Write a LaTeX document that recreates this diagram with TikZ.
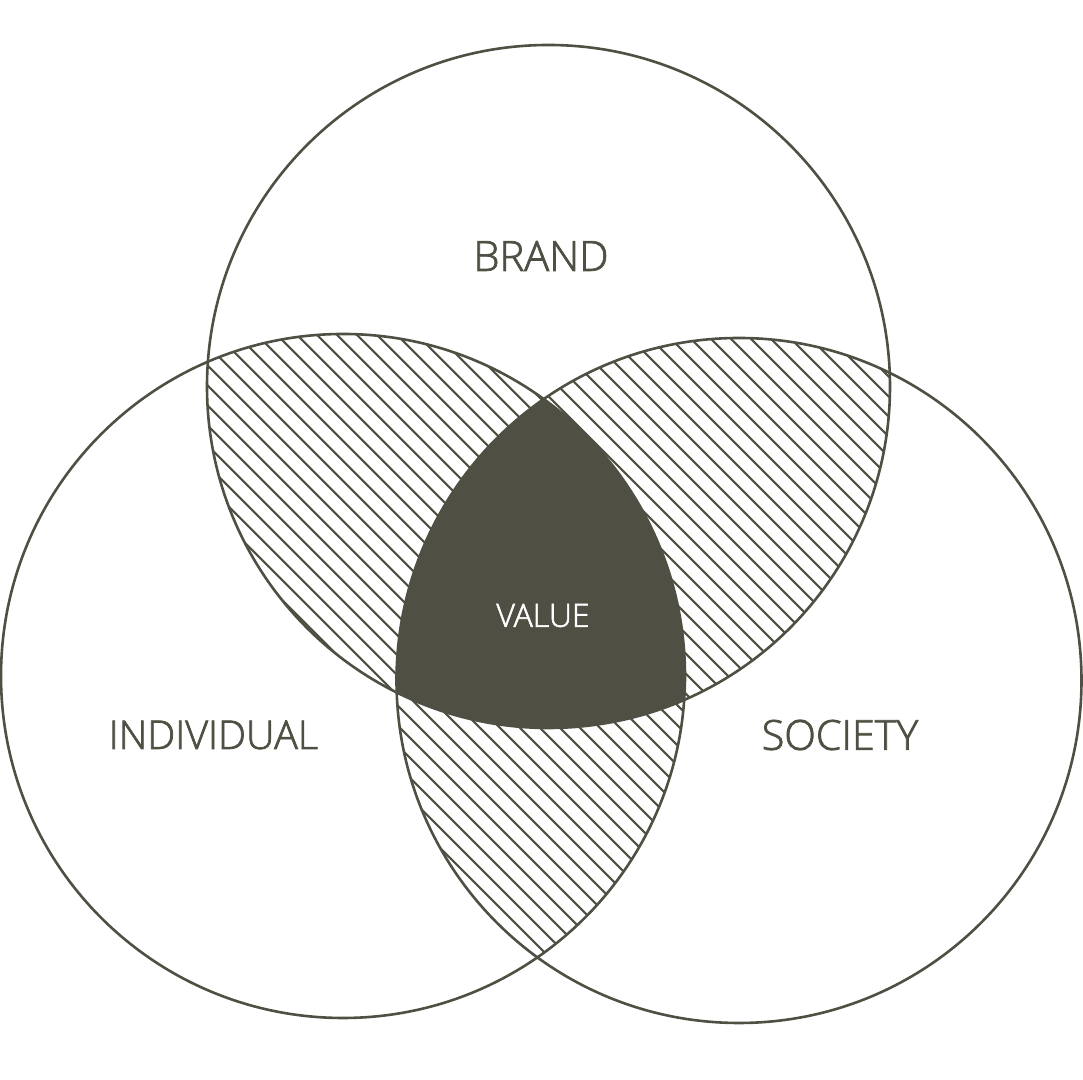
\documentclass[tikz,border=0pt]{standalone}
\usepackage{fontspec}
\IfFontExistsTF{Open Sans Light}
  {\newfontfamily\lblfont{Open Sans Light}[RawFeature={embolden=1.8}]}
  {\newfontfamily\lblfont{Open Sans}}
\definecolor{ink}{RGB}{79,79,67}
\begin{document}
\begin{tikzpicture}[x=0.75pt,y=0.75pt,
  ring/.style={draw=ink,line width=1.95pt},
  hatch/.style={draw=ink,line width=1.6pt},
  lbl/.style={text=ink,inner sep=0pt,font=\lblfont}]
\useasboundingbox (0,0) rectangle (1083,1080);
\coordinate (cB) at (548.5,693.5);
\coordinate (cI) at (343,404);
\coordinate (cS) at (739,399.5);
% hatched pairwise overlaps
\begin{scope}
  \clip (cI) circle[radius=342];
  \clip (cB) circle[radius=341.5];
  \foreach \k in {2,22,...,2202} \draw[hatch] (\k-1080,1080) -- (\k,0);
\end{scope}
\begin{scope}
  \clip (cS) circle[radius=342.5];
  \clip (cB) circle[radius=341.5];
  \foreach \k in {12,32,...,2212} \draw[hatch] (\k-1080,1080) -- (\k,0);
\end{scope}
\begin{scope}
  \clip (cI) circle[radius=342];
  \clip (cS) circle[radius=342.5];
  \foreach \k in {12,32,...,2212} \draw[hatch] (\k-1080,1080) -- (\k,0);
\end{scope}
% triple overlap
\begin{scope}
  \clip (cI) circle[radius=342];
  \clip (cB) circle[radius=341.5];
  \fill[ink] (cS) circle[radius=342.5];
\end{scope}
% outlines
\draw[ring] (cB) circle[radius=341.5];
\draw[ring] (cI) circle[radius=342];
\draw[ring] (cS) circle[radius=342.5];
% labels
\node[lbl] (brand) at (541,824) {\fontsize{31.2}{37}\selectfont BRAND};
\node[lbl] (individual) at (213.5,345) {\fontsize{29.7}{35}\selectfont INDIVIDUAL};
\node[lbl] (society) at (840,345) {\fontsize{31}{37}\selectfont SOCIETY};
\node[lbl,text=white] (value) at (543,464.5) {\fontsize{24}{29}\selectfont VALUE};
\end{tikzpicture}
\end{document}
